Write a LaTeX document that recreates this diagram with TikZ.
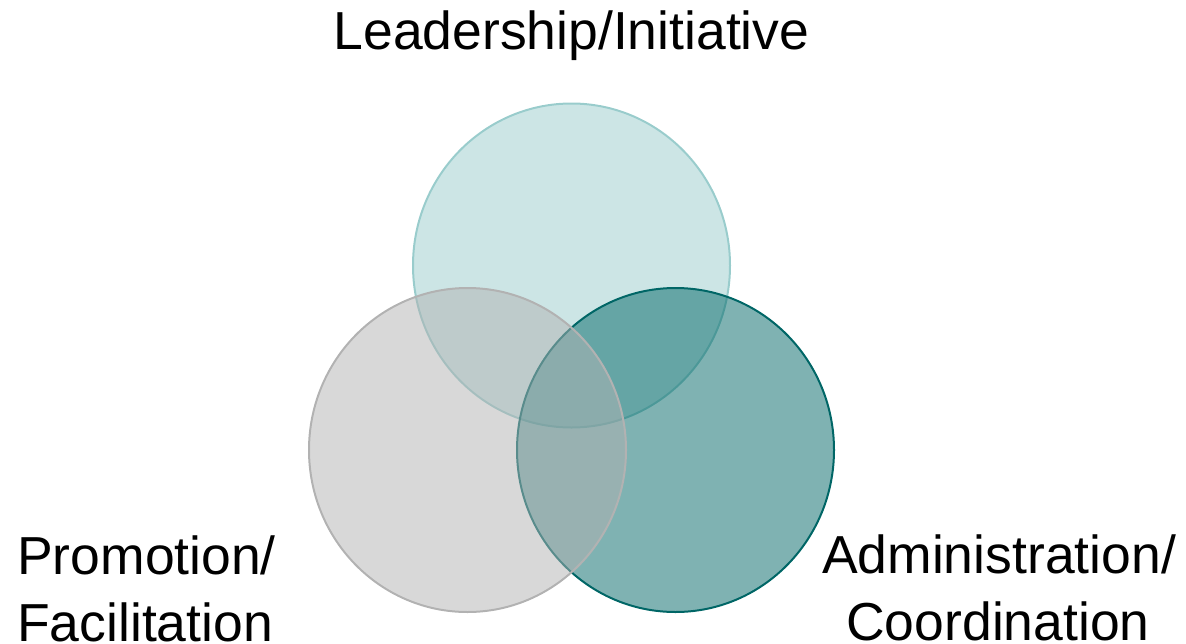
\documentclass[tikz,border=0pt]{standalone}
\usepackage{fontspec}
\setmainfont{Liberation Sans}
\definecolor{topfill}{HTML}{99CCCC}
\definecolor{topline}{HTML}{99CCCC}
\definecolor{grayfill}{HTML}{B2B2B2}
\definecolor{grayline}{HTML}{B2B2B2}
\definecolor{tealfill}{HTML}{006666}
\definecolor{tealline}{HTML}{006666}
\tikzset{
  venn/.style={line width=2pt, fill opacity=0.5},
  lbl/.style={inner sep=0pt, font=\fontsize{53.5}{64}\selectfont, text=black}
}
\begin{document}
\begin{tikzpicture}[x=1pt,y=-1pt]
\useasboundingbox (0,0) rectangle (1186,643);
\draw[venn, draw=topline, fill=topfill] (571.5,265.5) ellipse [x radius=158.5, y radius=162];
\draw[venn, draw=tealline, fill=tealfill] (675.5,450) ellipse [x radius=158.5, y radius=162];
\draw[venn, draw=grayline, fill=grayfill] (467.5,450) ellipse [x radius=158.5, y radius=162];
\node[lbl, anchor=base] (lead) at (571.5,49) {Leadership/Initiative};
\node[lbl, anchor=base west] (promo1) at (17,574) {Promotion/};
\node[lbl, anchor=base west] (promo2) at (17,641) {Facilitation};
\node[lbl, anchor=base] (admin1) at (999,573) {Administration/};
\node[lbl, anchor=base] (admin2) at (998,640) {Coordination};
\end{tikzpicture}
\end{document}
